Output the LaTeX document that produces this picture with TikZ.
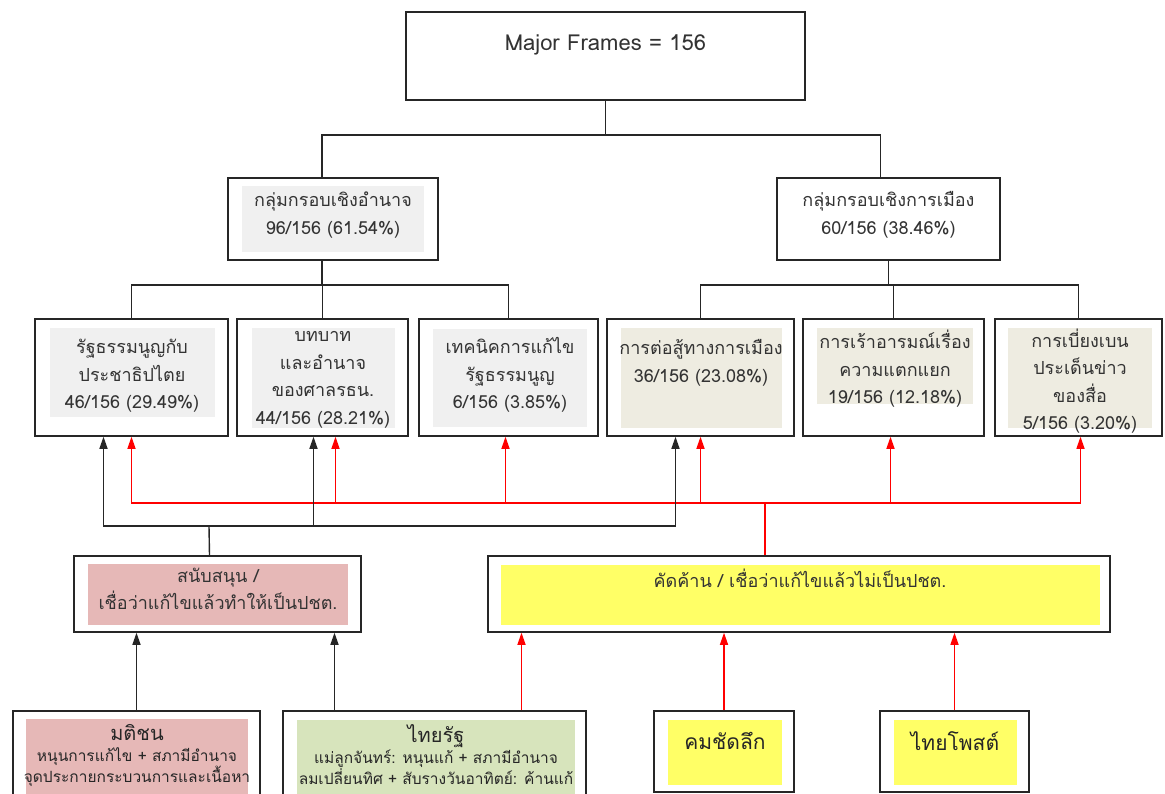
\documentclass[tikz,border=0pt]{standalone}
\usepackage{fontspec}
\setmainfont[Script=Thai]{Loma}
\usepackage{tikz}
\usetikzlibrary{arrows.meta}
\definecolor{padgray}{HTML}{F0F0F0}
\definecolor{padbeige}{HTML}{EEECE1}
\definecolor{padpink}{HTML}{E6B8B7}
\definecolor{padyellow}{HTML}{FFFF66}
\definecolor{padgreen}{HTML}{D7E4BC}
\definecolor{ink}{HTML}{333333}
\tikzstyle{frm}=[draw=black!85, line width=1.5pt, fill=white, inner sep=0pt]
\tikzstyle{lbl}=[align=center, text=ink, inner sep=0pt, font=\fontsize{18}{27.5}\selectfont]
\tikzstyle{small}=[align=center, text=black!85, inner sep=0pt, font=\fontsize{15.5}{21}\selectfont]
\tikzstyle{tree}=[draw=black!85, line width=1.4pt]
\tikzstyle{blk}=[draw=black!85, line width=1.4pt]
\tikzstyle{rd}=[draw=red, line width=1.3pt]
\tikzstyle{tip}=[-{Triangle[length=12pt,width=8pt]}]
\newcommand{\panel}{\node[frm]}

\begin{document}
\begin{tikzpicture}[x=1pt, y=-1pt]
            \useasboundingbox (0,0) rectangle (1165,794);
            \clip (0,0) rectangle (1165,794);

            % frames
            \panel (top) at (605.5,56) [minimum width=399, minimum height=88]{};
            \panel (pow) at (333,219) [minimum width=210, minimum height=82]{};
            \panel (pol) at (888.5,219) [minimum width=223, minimum height=82]{};
            \panel (c1) at (131.5,377.5) [minimum width=193, minimum height=117]{};
            \panel (c2) at (322.5,377.5) [minimum width=171, minimum height=117]{};
            \panel (c3) at (508.5,377.5) [minimum width=179, minimum height=117]{};
            \panel (c4) at (700.5,377.5) [minimum width=187, minimum height=117]{};
            \panel (c5) at (893.5,377.5) [minimum width=181, minimum height=117]{};
            \panel (c6) at (1078.5,377.5) [minimum width=167, minimum height=117]{};
            \panel (sup) at (217.5,594) [minimum width=287, minimum height=76]{};
            \panel (opp) at (799,594) [minimum width=622, minimum height=76]{};
            \panel (mat) at (136.5,770) [minimum width=247, minimum height=118]{};
            \panel (thr) at (434.5,770) [minimum width=303, minimum height=118]{};
            \panel (kom) at (724,751.5) [minimum width=140, minimum height=81]{};
            \panel (tpo) at (954.5,751.5) [minimum width=149, minimum height=81]{};

            % inner fills
            \fill[padgray] (242,186) rectangle (424,252);
            \fill[padgray] (50,328) rectangle (215,417);
            \fill[padgray] (252,328) rectangle (395,428);
            \fill[padgray] (433,329) rectangle (587,427);
            \fill[padbeige] (621,328) rectangle (782,428);
            \fill[padbeige] (817,328) rectangle (973,404);
            \fill[padbeige] (1008,328) rectangle (1152,428);
            \fill[padpink] (88,564) rectangle (348,625);
            \fill[padyellow] (501,565) rectangle (1100,625);
            \fill[padpink] (26,719) rectangle (248,830);
            \fill[padgreen] (297,720) rectangle (575,830);
            \fill[padyellow] (668,720) rectangle (782,785);
            \fill[padyellow] (894,720) rectangle (1017,785);

            % texts
            \node[lbl, font=\fontsize{22}{26}\selectfont] (topt) at (605.5,45) {Major Frames = 156};
            \node[lbl] (powt) at (333,215) {กลุ่มกรอบเชิงอำนาจ\\96/156 (61.54\%)};
            \node[lbl] (polt) at (888.5,215) {กลุ่มกรอบเชิงการเมือง\\60/156 (38.46\%)};
            \node[lbl] (c1t) at (132,376) {รัฐธรรมนูญกับ\\ประชาธิปไตย\\46/156 (29.49\%)};
            \node[lbl] (c2t) at (323,380) {บทบาท\\และอำนาจ\\ของศาลรธน.\\44/156 (28.21\%)};
            \node[lbl] (c3t) at (510,375) {เทคนิคการแก้ไข\\รัฐธรรมนูญ\\6/156 (3.85\%)};
            \node[lbl] (c4t) at (701,363) {การต่อสู้ทางการเมือง\\36/156 (23.08\%)};
            \node[lbl] (c5t) at (895,369) {การเร้าอารมณ์เรื่อง\\ความแตกแยก\\19/156 (12.18\%)};
            \node[lbl] (c6t) at (1080,381) {การเบี่ยงเบน\\ประเด็นข่าว\\ของสื่อ\\5/156 (3.20\%)};
            \node[lbl] (supt) at (218,589) {สนับสนุน /\\เชื่อว่าแก้ไขแล้วทำให้เป็นปชต.};
            \node[lbl] (oppt) at (800,578) {คัดค้าน / เชื่อว่าแก้ไขแล้วไม่เป็นปชต.};
            \node[small] (matt) at (137,755) {{\fontsize{20}{21}\selectfont มติชน}\\หนุนการแก้ไข + สภามีอำนาจ\\จุดประกายกระบวนการและเนื้อหา};
            \node[small] (thrt) at (436,755) {{\fontsize{20}{21}\selectfont ไทยรัฐ}\\แม่ลูกจันทร์: หนุนแก้ + สภามีอำนาจ\\ลมเปลี่ยนทิศ + สับรางวันอาทิตย์: ค้านแก้};
            \node[small, font=\fontsize{21}{24}\selectfont] (komt) at (725,741) {คมชัดลึก};
            \node[small, font=\fontsize{21}{24}\selectfont] (tpot) at (955,741) {ไทยโพสต์};

            % tree
            \coordinate (j0) at (605.5,135);
            \coordinate (j1) at (322,285);
            \coordinate (j2) at (888.5,285);
            \draw[tree] (top.south) -- (j0) -| ([xshift=-11]pow.north);
            \draw[tree] (j0) -| ([xshift=-8]pol.north);
            \draw[tree] ([xshift=-11]pow.south) -- (j1) -| (c1.north);
            \draw[tree] (j1) -| (c2.north);
            \draw[tree] (j1) -| (c3.north);
            \draw[tree] (pol.south) -- (j2) -| (c4.north);
            \draw[tree] (j2) -| (c5.north);
            \draw[tree] (j2) -| (c6.north);

            % stance arrows
            \coordinate (rbus) at (765,503);
            \coordinate (kbus) at (209,526);
            \draw[rd] ([xshift=-34]opp.north) -- (rbus);
            \draw[rd, tip] (rbus) -| (c1.south);
            \draw[rd, tip] (rbus) -| ([xshift=13]c2.south);
            \draw[rd, tip] (rbus) -| ([xshift=-3]c3.south);
            \draw[rd, tip] (rbus) -| (c4.south);
            \draw[rd, tip] (rbus) -| ([xshift=-3]c5.south);
            \draw[rd, tip] (rbus) -| ([xshift=2]c6.south);
            \draw[blk] ([xshift=-8]sup.north) -- (kbus);
            \draw[blk, tip] (kbus) -| ([xshift=-28]c1.south);
            \draw[blk, tip] (kbus) -| ([xshift=-9]c2.south);
            \draw[blk, tip] (kbus) -| ([xshift=-25]c4.south);

            % press arrows
            \coordinate (thrk) at ([xshift=-100]thr.north);
            \coordinate (thrr) at ([xshift=87]thr.north);
            \draw[blk, tip] (mat.north) -- (mat.north |- sup.south);
            \draw[blk, tip] (thrk) -- (thrk |- sup.south);
            \draw[rd, tip] (thrr) -- (thrr |- opp.south);
            \draw[rd, tip] (kom.north) -- (kom.north |- opp.south);
            \draw[rd, tip] (tpo.north) -- (tpo.north |- opp.south);
        \end{tikzpicture}
\end{document}
